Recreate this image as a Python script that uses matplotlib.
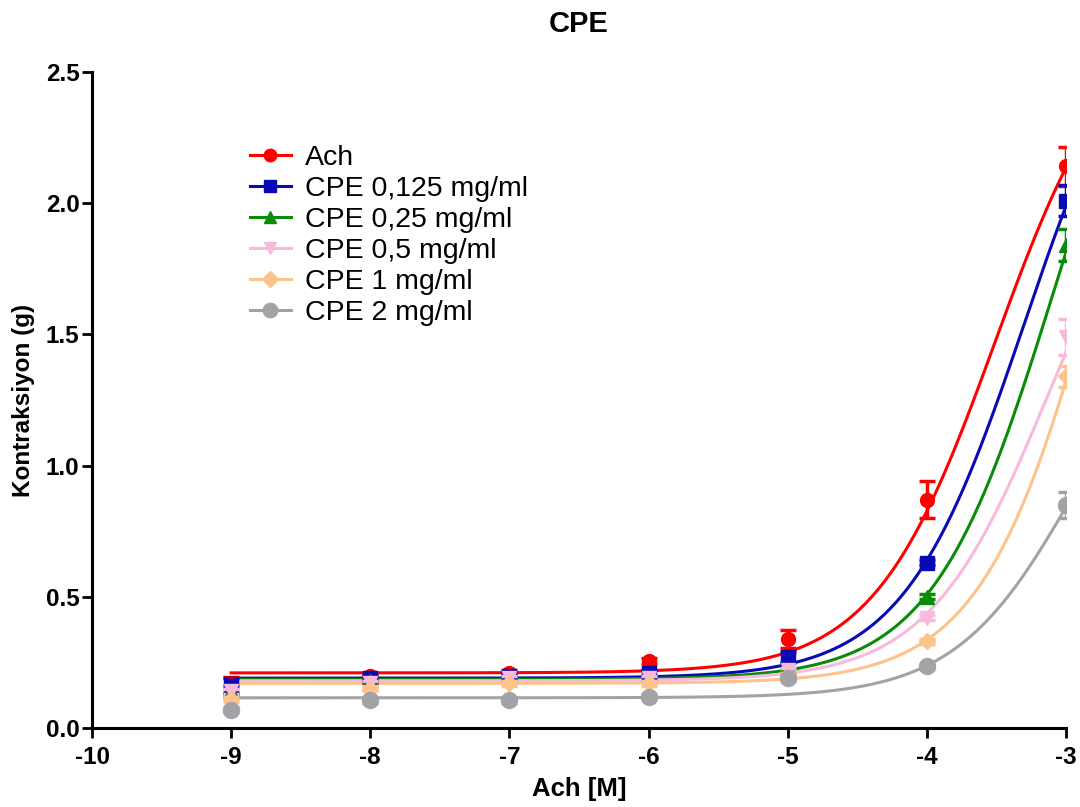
import numpy as np
import matplotlib
matplotlib.use("Agg")
import matplotlib.pyplot as plt

plt.rcParams['font.family'] = ['Liberation Sans', 'DejaVu Sans']
plt.rcParams['axes.unicode_minus'] = False

# log concentrations of Ach
log_conc = [-9, -8, -7, -6, -5, -4, -3]

labels = ["Ach", "CPE 0,125 mg/ml", "CPE 0,25 mg/ml", "CPE 0,5 mg/ml",
          "CPE 1 mg/ml", "CPE 2 mg/ml"]

ach = [0.165, 0.20, 0.21, 0.255, 0.34, 0.87, 2.14]
cpe_0125 = [0.16, 0.19, 0.20, 0.21, 0.27, 0.63, 2.01]
cpe_025 = [0.14, 0.18, 0.19, 0.19, 0.22, 0.50, 1.84]
cpe_05 = [0.14, 0.17, 0.19, 0.19, 0.22, 0.42, 1.49]
cpe_1 = [0.11, 0.15, 0.17, 0.17, 0.20, 0.33, 1.34]
cpe_2 = [0.07, 0.105, 0.105, 0.12, 0.19, 0.235, 0.85]

ach_err = [0.03, 0.01, 0.01, 0.01, 0.035, 0.07, 0.075]
cpe_0125_err = [0.03, 0.01, 0.01, 0.01, 0.02, 0.01, 0.06]
cpe_025_err = [0.02, 0.01, 0.01, 0.01, 0.01, 0.01, 0.06]
cpe_05_err = [0.01, 0.01, 0.01, 0.01, 0.01, 0.01, 0.07]
cpe_1_err = [0.01, 0.01, 0.01, 0.01, 0.01, 0.01, 0.04]
cpe_2_err = [0.01, 0.01, 0.01, 0.01, 0.01, 0.01, 0.05]

# fitted curve parameters (bottom, span, logEC50), hill slope 1
bottoms = [0.21, 0.19, 0.185, 0.18, 0.17, 0.115]
spans = [2.52, 2.70, 2.95, 2.20, 3.40, 1.60]
log_ec50 = [-3.51, -3.30, -3.09, -3.12, -2.71, -2.92]

colors = ["#FF0000", "#0A0AB4", "#0A8C0A", "#F7B9DC", "#FCC38A", "#A3A3A7"]
markers = ["o", "s", "^", "v", "D", "o"]
msizes = [10, 9.5, 10, 10, 8.5, 11.5]

series = [ach, cpe_0125, cpe_025, cpe_05, cpe_1, cpe_2]
errors = [ach_err, cpe_0125_err, cpe_025_err, cpe_05_err, cpe_1_err, cpe_2_err]

fig = plt.figure(figsize=(10.8, 8.07), dpi=100)
ax = fig.add_axes([0.0852, 0.0979, 0.9018, 0.8129])

xs = np.linspace(-9, -3, 300)
# draw in reverse so Ach ends on top
for i in range(len(series) - 1, -1, -1):
    yfit = bottoms[i] + spans[i] / (1 + 10 ** (log_ec50[i] - xs))
    ax.plot(xs, yfit, color=colors[i], lw=2.2, zorder=2 + i * 0.1)
    ax.errorbar(log_conc, series[i], yerr=errors[i], fmt=markers[i],
                color=colors[i], ms=msizes[i], capsize=6, capthick=2.5,
                elinewidth=2.5, zorder=3 + i * 0.1)

handles = [plt.Line2D([], [], color=colors[i], marker=markers[i], lw=2.2,
                      ms=msizes[i] * 0.9) for i in range(len(labels))]
ax.legend(handles, labels, loc='upper left', bbox_to_anchor=(0.162, 0.889),
          frameon=False, fontsize=20.5, handlelength=1.45, handletextpad=0.5,
          labelspacing=0.18, borderpad=0, borderaxespad=0)

ax.set_xlim(-10, -3)
ax.set_ylim(0, 2.5)
ax.set_xticks(range(-10, -2))
ax.set_yticks([0.0, 0.5, 1.0, 1.5, 2.0, 2.5])
ax.set_yticklabels(["0.0", "0.5", "1.0", "1.5", "2.0", "2.5"])
ax.tick_params(labelsize=17.5, width=2, length=7, direction='out')
ax.tick_params(axis='x', pad=6)
ax.tick_params(axis='y', pad=2)
for lab in ax.get_xticklabels() + ax.get_yticklabels():
    lab.set_fontweight('bold')
ax.spines['top'].set_visible(False)
ax.spines['right'].set_visible(False)
ax.spines['left'].set_linewidth(2.2)
ax.spines['bottom'].set_linewidth(2.2)

ax.set_xlabel("Ach [M]", fontsize=18.5, fontweight='bold', labelpad=6)
ax.set_ylabel("Kontraksiyon (g)", fontsize=17.5, fontweight='bold', labelpad=8)
ax.set_title("CPE", fontsize=21, fontweight='bold', pad=29)

fig.savefig("out.png", dpi=100)
